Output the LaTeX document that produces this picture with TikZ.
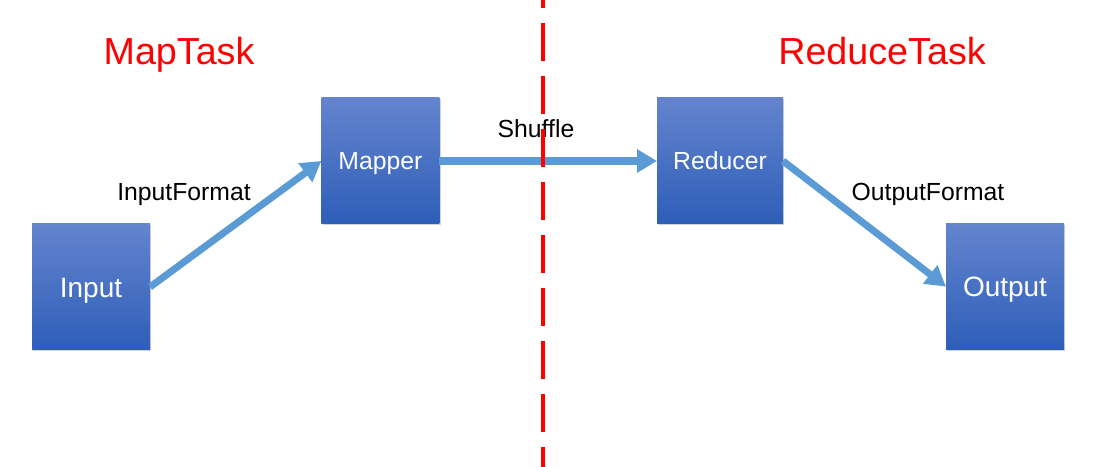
\documentclass[tikz,border=0pt]{standalone}
\usepackage{fontspec}
\setmainfont{Liberation Sans}
\usetikzlibrary{arrows.meta,shadows}

\definecolor{boxtop}{RGB}{100,132,206}
\definecolor{boxbot}{RGB}{46,94,184}
\definecolor{flow}{RGB}{91,155,213}

\tikzset{
  task/.style={minimum width=2.95cm,minimum height=3.15cm,inner sep=0pt,outer sep=0pt,
    top color=boxtop,bottom color=boxbot,text=white,text depth=0pt,
    drop shadow={shadow xshift=0.8pt,shadow yshift=-1pt,opacity=0.35}},
  small/.style={font=\fontsize{17.6}{20}\selectfont,text height=12.6pt},
  big/.style={font=\fontsize{19.9}{22}\selectfont,text height=14.3pt},
  flowline/.style={flow,line width=5pt,-{Triangle[length=0.5cm,width=0.56cm]}},
  phase/.style={text=red,anchor=base,font=\fontsize{26.8}{30}\selectfont}
}

\begin{document}
\begin{tikzpicture}[scale=1]

\useasboundingbox (0,0) rectangle (27.45,11.675);

\node[task,big] (input) at (2.275,4.5) {Input};
\node[task,small] (mapper) at (9.51,7.65) {Mapper};
\node[task,small,minimum width=3.15cm] (reducer) at (18.0,7.65) {Reducer};
\node[task,big] (output) at (25.125,4.51) {Output};

\draw[flowline](input.east)--(mapper.west);
\draw[flowline](mapper.east)--(reducer.west);
\draw[flowline](reducer.east)--(output.west);

\node[anchor=base,font=\fontsize{17.6}{20}\selectfont] (infmt) at (4.6,6.65) {InputFormat};
\node[anchor=base,font=\fontsize{17.6}{20}\selectfont] (shuffle) at (13.4,8.225) {Shuffle};
\node[anchor=base,font=\fontsize{17.6}{20}\selectfont] (outfmt) at (23.2,6.66) {OutputFormat};

\node[phase] (map) at (4.475,10.05) {MapTask};
\node[phase] (reduce) at (22.05,10.05) {ReduceTask};

\coordinate (top) at (13.575,11.675);
\coordinate (bot) at (13.575,0);
\draw[red,line width=2.85pt,dash pattern=on 0.95cm off 0.375cm,dash phase=0.75cm](top)--(bot);

\end{tikzpicture}
\end{document}
